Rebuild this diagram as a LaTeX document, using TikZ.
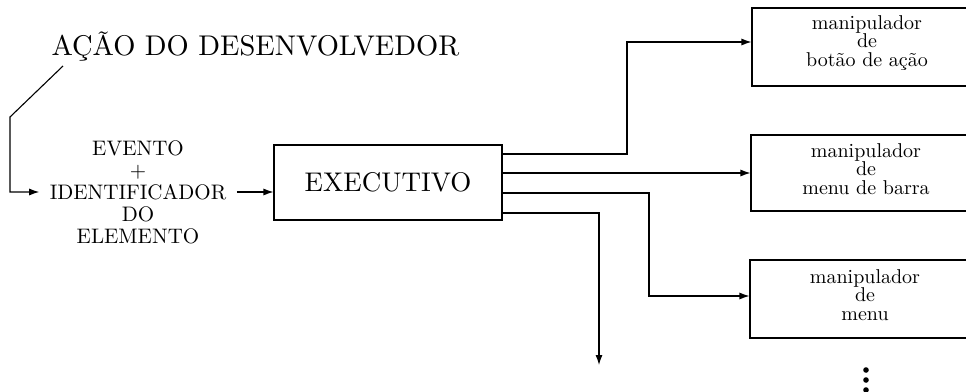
\documentclass[tikz,border=0pt]{standalone}
\usepackage{fontspec}
% one design size at every scale, as in scaled cmr10
\setmainfont{lmroman10-regular}[Extension=.otf]
\usetikzlibrary{arrows.meta}

\begin{document}
\begin{tikzpicture}[x=1pt,y=-1pt,
  line width=1.1pt,
  arr/.style={-{Latex[length=10pt,width=7pt]}},
  block/.style={draw, rectangle, inner sep=0pt},
  handler/.style={block, minimum width=230pt},
  handlertext/.style={align=center, inner sep=0pt,
    font=\fontsize{20}{18.5}\selectfont},
]
\clip (0,0) rectangle (966,391);

% heading and incoming event
\node[anchor=base west, inner sep=0pt, font=\fontsize{28.5}{34}\selectfont]
  (title) at (51,55) {AÇÃO DO DESENVOLVEDOR};
\coordinate (t0) at (63,66);

\node[align=center, inner xsep=10pt, inner ysep=0pt,
      font=\fontsize{21}{22}\selectfont]
  (evt) at (138,192) {EVENTO\\+\\IDENTIFICADOR\\DO\\ELEMENTO};

% dispatcher
\node[block, minimum width=228pt, minimum height=75pt,
      font=\fontsize{27}{32}\selectfont]
  (exec) at (388,182.5) {EXECUTIVO};

% handlers
\node[handler, minimum height=78pt] (h1) at (867,47) {};
\node[handler, minimum height=76pt] (h2) at (866,173) {};
\node[handler, minimum height=78pt] (h3) at (865,299) {};
\node[handlertext] (h1t) at ([yshift=4pt]h1.center) {manipulador\\de\\botão de ação};
\node[handlertext] (h2t) at ([yshift=4pt]h2.center) {manipulador\\de\\menu de barra};
\node[handlertext] (h3t) at ([yshift=4pt]h3.center) {manipulador\\de\\menu};
\coordinate (more) at (599,365);

% connectors
\draw[arr] (t0) -- (10,117) -- (10,192) -- (evt.west);
\draw[arr] (evt.east) -- (evt.east -| exec.west);
\draw[arr] ([yshift=28.5pt]exec.east) -| (627,42) -- ([yshift=5pt]h1.west);
\draw[arr] ([yshift=9.5pt]exec.east) -- (h2.west);
\draw[arr] ([yshift=-10.5pt]exec.east) -| (649,296) -- ([yshift=3pt]h3.west);
\draw[arr] ([yshift=-30.5pt]exec.east) -| (more);

% continuation dots
\foreach \yy in {370,380,390}
  \fill (866,\yy) circle (2.8pt);
\end{tikzpicture}
\end{document}
